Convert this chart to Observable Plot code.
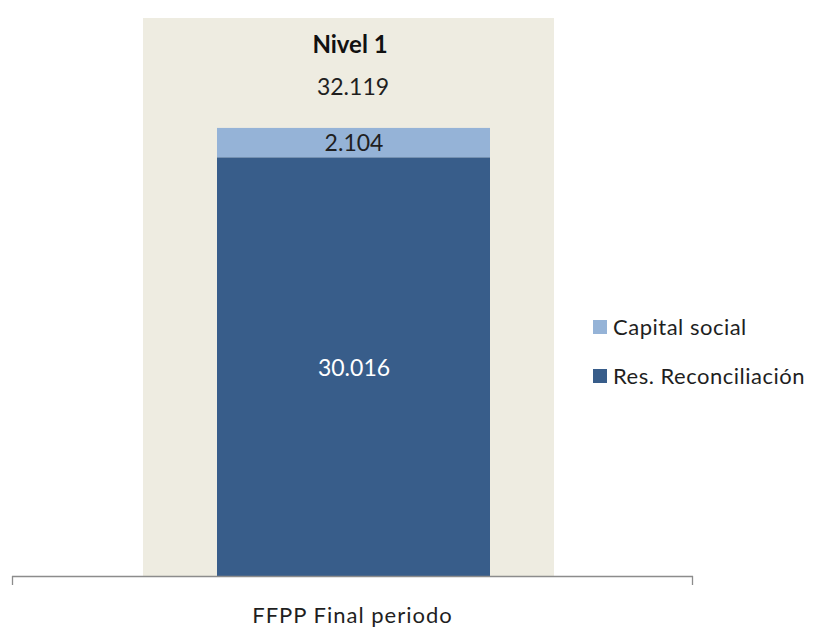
<!DOCTYPE html>
<html>
<head>
<meta charset="utf-8">
<script src="https://cdn.jsdelivr.net/npm/d3@7"></script>
<script src="https://cdn.jsdelivr.net/npm/@observablehq/plot@0.6"></script>
<style>
  html, body { margin: 0; padding: 0; background: #fff; }
  #chart svg { display: block; }
</style>
</head>
<body>
<div id="chart"></div>
<script>
// ---- Data ----
const categories = ["FFPP Final periodo"];
const series = ["Res. Reconciliación", "Capital social"];
const values = [30016, 2104];
const totalValue = [32119];
const levelName = ["Nivel 1"];
const levelValue = [40000];
const seriesColors = ["#385D8A", "#95B3D7"];
const labelColors = ["#ffffff", "#1f1f1f"];

const loc = d3.formatLocale({decimal: ",", thousands: ".", grouping: [3], currency: ["", "€"]});
const fmt = loc.format(",");

const rows = series.map((s, i) => ({cat: categories[0], serie: s, value: values[i], color: seriesColors[i], lc: labelColors[i]}));
let acc = 0;
rows.forEach(r => { r.y1 = acc; acc += r.value; r.y2 = acc; r.mid = (r.y1 + r.y2) / 2; });

const FONT = "Lato, 'Open Sans', sans-serif";

const chart = Plot.plot({
  width: 818,
  height: 630,
  marginTop: 18,
  marginBottom: 54,
  marginLeft: 12,
  marginRight: 125,
  style: {fontFamily: FONT, background: "#fff"},
  x: {domain: categories, axis: null, padding: 0},
  y: {domain: [0, levelValue[0]], axis: null},
  marks: [
    Plot.barY(levelValue.map((v, i) => ({cat: categories[0], v, name: levelName[i]})), {
      x: "cat", y: "v", fill: "#EEECE1", insetLeft: 131, insetRight: 139
    }),
    Plot.barY(rows, {
      x: "cat", y1: "y1", y2: "y2", fill: "color", insetLeft: 205, insetRight: 203
    }),
    Plot.text(rows, {
      x: "cat", y: "mid", text: d => fmt(d.value), fill: "lc", fontSize: 23, dx: 1, dy: 1,
      letterSpacing: 0.5
    }),
    Plot.text(totalValue, {
      x: () => categories[0], y: d => d, text: d => fmt(d), fontSize: 23, fill: "#1f1f1f", dy: -41, dx: 0,
      letterSpacing: 0.5
    }),
    Plot.text(levelName, {
      x: () => categories[0], y: () => levelValue[0], text: d => d, fontSize: 24, fontWeight: "bold",
      fill: "#111", dy: 27, dx: -3, letterSpacing: 0.8
    }),
    Plot.ruleY([0], {stroke: "#8c8c8c", strokeWidth: 1.3})
  ]
});

document.getElementById("chart").appendChild(chart);

const svg = d3.select(chart);
const xs = chart.scale("x");
const ys = chart.scale("y");
const [r0, r1] = xs.range;
const y0 = ys.apply(0);
[r0 + 0.5, r1 - 0.5].forEach(xp => {
  svg.append("line").attr("x1", xp).attr("x2", xp).attr("y1", y0).attr("y2", y0 + 9)
    .attr("stroke", "#8c8c8c").attr("stroke-width", 1.3);
});
svg.append("text")
  .attr("x", xs.apply(categories[0]) + xs.bandwidth / 2)
  .attr("y", y0 + 39)
  .attr("dy", "0.35em")
  .attr("text-anchor", "middle")
  .attr("font-family", FONT)
  .attr("font-size", 22)
  .attr("letter-spacing", 1)
  .attr("fill", "#1f1f1f")
  .text(categories[0]);

const legendItems = series.map((s, i) => ({s, c: seriesColors[i]})).reverse();
legendItems.forEach((d, i) => {
  const yy = 327 + i * 49;
  svg.append("rect").attr("x", 593).attr("y", yy - 7).attr("width", 14).attr("height", 14).attr("fill", d.c);
  svg.append("text").attr("x", 613).attr("y", yy).attr("dy", "0.35em")
    .attr("text-anchor", "start")
    .attr("font-family", FONT).attr("font-size", 22).attr("letter-spacing", 0.5)
    .attr("fill", "#1f1f1f").text(d.s);
});
</script>
</body>
</html>
